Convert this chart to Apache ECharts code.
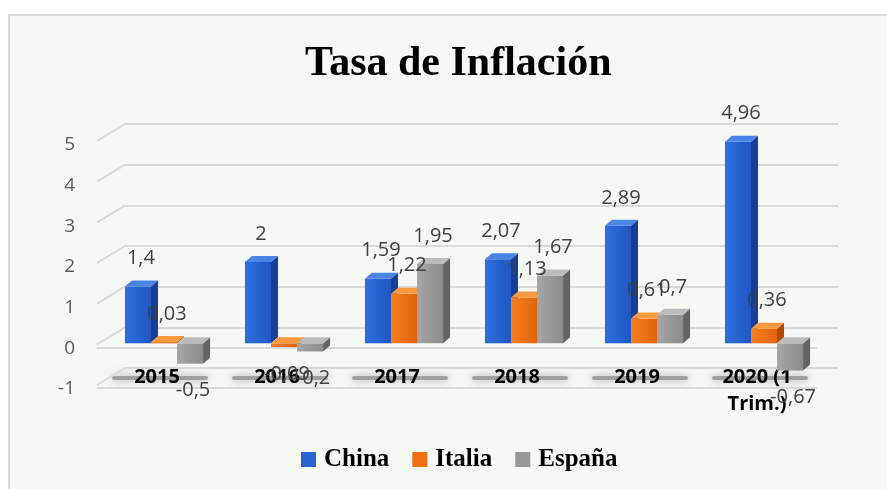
<!DOCTYPE html>
<html>
<head>
<meta charset="utf-8">
<script src="https://cdn.jsdelivr.net/npm/echarts@6/dist/echarts.min.js"></script>
<style>
html,body{margin:0;padding:0;background:#ffffff;}
#chart{width:887px;height:489px;}
</style>
</head>
<body>
<div id="chart"></div>
<script>
const categories = ['2015', '2016', '2017', '2018', '2019', '2020 (1\nTrim.)'];
const china  = [1.4, 2, 1.59, 2.07, 2.89, 4.96];
const italia = [0.03, -0.09, 1.22, 1.13, 0.61, 0.36];
const espana = [-0.5, -0.2, 1.95, 1.67, 0.7, -0.67];
const yTicks = [-1, 0, 1, 2, 3, 4, 5];
const seriesNames = ['China', 'Italia', 'España'];

const palette = [
  {front: ['#3070dc', '#1f55c2'], top: '#4a84e4', side: '#173f98', legend: '#2a62cf'},
  {front: ['#f78020', '#e2620a'], top: '#fa9a40', side: '#b04a06', legend: '#ee7012'},
  {front: ['#a6a6a6', '#8c8c8c'], top: '#bcbcbc', side: '#646464', legend: '#979797'}
];

const fmt = v => String(v).replace('.', ',');

function barRenderer(sIdx) {
  const c = palette[sIdx];
  return function (params, api) {
    const cat = api.value(0), v = api.value(1);
    const band = api.size([1, 0])[0];
    const bw = band * 0.217;
    const p0 = api.coord([cat, 0]);
    const pv = api.coord([cat, v]);
    const x0 = p0[0] - 1.5 * bw + sIdx * bw;
    const yTop = Math.min(p0[1], pv[1]);
    const yBot = Math.max(p0[1], pv[1]);
    const dx = 7, dy = -6;
    const front = new echarts.graphic.LinearGradient(0, 0, 1, 0, [
      {offset: 0, color: c.front[0]}, {offset: 1, color: c.front[1]}
    ]);
    const ly = v >= 0 ? yTop - 28 : yBot + 27;
    return {
      type: 'group',
      children: [
        {type: 'polygon', shape: {points: [[x0 + bw, yTop], [x0 + bw + dx, yTop + dy], [x0 + bw + dx, yBot + dy], [x0 + bw, yBot]]},
         style: {fill: c.side}},
        {type: 'rect', shape: {x: x0, y: yTop, width: bw, height: Math.max(1, yBot - yTop)},
         style: {fill: front}},
        {type: 'polygon', shape: {points: [[x0, yTop], [x0 + dx, yTop + dy], [x0 + bw + dx, yTop + dy], [x0 + bw, yTop]]},
         style: {fill: c.top}},
        {type: 'text', z2: 100,
         style: {text: fmt(v), x: x0 + bw / 2 + 3, y: ly, fill: '#404040',
                 fontSize: 20, fontFamily: 'Open Sans', align: 'center', verticalAlign: 'middle'}}
      ]
    };
  };
}

const allSeries = [china, italia, espana];

const option = {
  backgroundColor: '#ffffff',
  animation: false,
  graphic: [{
    type: 'rect', z: -10, silent: true,
    shape: {x: 9, y: 15, width: 900, height: 490},
    style: {fill: '#f6f8f3', stroke: '#d9d9d9', lineWidth: 2}
  }],
  title: {
    text: 'Tasa de Inflación',
    left: 300, top: 38,
    textStyle: {fontFamily: 'Liberation Serif', fontWeight: 'bold', fontSize: 42, color: '#000000'}
  },
  legend: {
    data: seriesNames,
    left: 296, top: 442,
    icon: 'rect', itemWidth: 15, itemHeight: 15, itemGap: 23,
    textStyle: {fontFamily: 'Liberation Serif', fontWeight: 'bold', fontSize: 25, color: '#000000', padding: [0, 0, 0, 3]}
  },
  grid: [
    {left: 104, right: 63, top: 140, bottom: 105},
    {left: 125, right: 49, top: 124, bottom: 121},
    {left: 97, right: 70, top: 144, bottom: 101}
  ],
  xAxis: [
    {gridIndex: 0, type: 'category', data: categories, position: 'bottom',
     axisLine: {show: false}, axisTick: {show: false}, splitLine: {show: false},
     axisLabel: {margin: -20, verticalAlign: 'top', lineHeight: 27, padding: [0, 14, 0, 0],
                 fontFamily: 'Open Sans', fontWeight: 'bold', fontSize: 20, color: '#000000'}},
    {gridIndex: 1, type: 'value', min: 0, max: 1, show: false},
    {gridIndex: 2, type: 'value', min: 0, max: 1, show: false}
  ],
  yAxis: [
    {gridIndex: 0, type: 'value', min: -1, max: 5, interval: 1,
     axisLine: {show: false}, axisTick: {show: false}, splitLine: {show: false},
     axisLabel: {margin: 29, verticalAlign: 'top', lineHeight: 10, fontFamily: 'Open Sans', fontSize: 19, color: '#595959'}},
    {gridIndex: 1, type: 'value', min: -1, max: 5, interval: 1,
     axisLine: {show: false}, axisTick: {show: false}, axisLabel: {show: false},
     splitLine: {show: true, lineStyle: {color: '#d9d9d9', width: 2}}},
    {gridIndex: 2, type: 'value', min: -1, max: 5, interval: 1,
     axisLine: {show: false}, axisTick: {show: false}, axisLabel: {show: false},
     splitLine: {show: true, lineStyle: {color: ['#d9d9d9', '#d9d9d9', 'rgba(0,0,0,0)', 'rgba(0,0,0,0)', 'rgba(0,0,0,0)', 'rgba(0,0,0,0)', 'rgba(0,0,0,0)'], width: 2}}}
  ],
  series: [
    {
      type: 'custom', name: 'walls', xAxisIndex: 1, yAxisIndex: 1, silent: true, z: 1,
      data: yTicks.map(t => [0, t]),
      renderItem: function (params, api) {
        const p = api.coord([0, api.value(1)]);
        return {type: 'line', shape: {x1: p[0] - 28, y1: p[1] + 17, x2: p[0], y2: p[1]},
                style: {stroke: '#d9d9d9', lineWidth: 2}};
      }
    },
    {
      type: 'custom', name: 'floorShadow', xAxisIndex: 0, yAxisIndex: 0, silent: true, z: -1,
      data: categories.map((c, i) => [i, -0.85]),
      renderItem: function (params, api) {
        const p = api.coord([api.value(0), api.value(1)]);
        return {type: 'rect', shape: {x: p[0] - 52, y: p[1] - 2, width: 96, height: 4, r: 2},
                style: {fill: 'rgba(100,100,100,0.5)', shadowBlur: 10, shadowColor: 'rgba(40,40,40,0.85)'}};
      }
    }
  ].concat(allSeries.map((vals, s) => ({
    type: 'custom', name: seriesNames[s], xAxisIndex: 0, yAxisIndex: 0,
    itemStyle: {color: palette[s].legend},
    encode: {x: 0, y: 1},
    data: vals.map((v, i) => [i, v]),
    renderItem: barRenderer(s)
  })))
};

const chart = echarts.init(document.getElementById('chart'), null, {renderer: 'canvas'});
chart.setOption(option);
</script>
</body>
</html>
